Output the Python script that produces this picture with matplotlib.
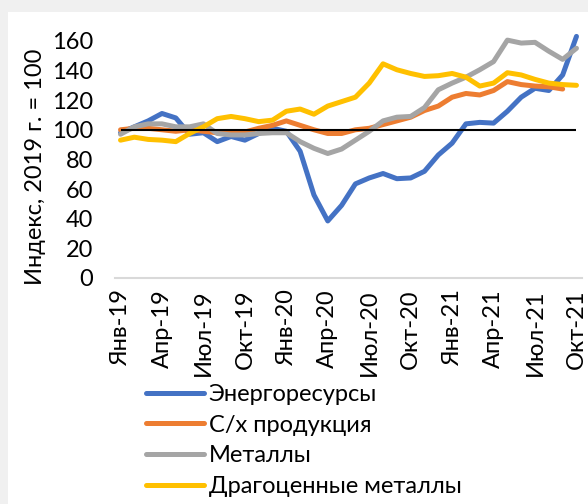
import matplotlib
matplotlib.use("Agg")
import matplotlib.pyplot as plt
import numpy as np

months = ["Янв", "Фев", "Мар", "Апр", "Май", "Июн", "Июл", "Авг", "Сен", "Окт", "Ноя", "Дек"]
dates = [f"{months[i % 12]}-{19 + i // 12}" for i in range(34)]
tick_labels = dates[::3]

energy = [98, 102, 106, 111, 108, 97, 98, 92, 95.5, 93, 97.5, 101, 99, 85.5, 56, 38.5,
          49, 63.5, 67.5, 70.5, 67, 67.5, 72, 83, 91, 104, 105, 104.5, 112.5, 122, 128, 126.5, 137, 163]
agri = [100, 101, 101, 100, 99, 100, 99, 98, 98, 98.5, 101, 103, 106, 103, 100, 97.5,
        97.5, 100, 101, 103.5, 106, 108.5, 113, 116, 122, 124.5, 123.5, 126.5, 132.5, 130.5, 129.5, 129, 127.5, np.nan]
metals = [97, 102, 104, 104, 102, 102, 104, 97.5, 96.5, 96.5, 97.5, 98, 98, 92, 87.5, 84,
          87, 93, 99, 106, 108.5, 109, 115, 127, 131.5, 135.5, 140.5, 146, 160.5, 158.5, 159, 153, 147.5, 155]
precious = [93, 95, 93.5, 93, 92, 97.5, 102, 107.5, 109, 107.5, 105.5, 106.5, 112.5, 114, 110.5, 116,
            119, 122, 131.5, 144.5, 140.5, 138, 136, 136.5, 138, 135.5, 129.5, 131.5, 138.5, 137, 134, 131.5, 130.5, 130]

series = [("Энергоресурсы", energy, "#4472C4"),
          ("С/х продукция", agri, "#ED7D31"),
          ("Металлы", metals, "#A5A5A5"),
          ("Драгоценные металлы", precious, "#FFC000")]

FS = 17
plt.rcParams['font.family'] = ['Lato', 'DejaVu Sans']
fig = plt.figure(figsize=(5.88, 5.04), dpi=100)
fig.patch.set_facecolor("#F0F0F0")
fig.add_artist(plt.Rectangle((8 / 588, 0), 1, 1 - 12 / 504, transform=fig.transFigure,
                             facecolor="white", edgecolor="none", zorder=0))

ax = fig.add_axes([115 / 588, 226 / 504, 467 / 588, 249 / 504])
ax.set_facecolor("none")
x = np.arange(len(dates))
handles = []
for name, vals, col in series:
    h, = ax.plot(x, vals, color=col, lw=3.6, solid_capstyle="round", solid_joinstyle="round", label=name)
    handles.append(h)
ax.hlines(100, x[0], x[-1], color="black", lw=1.5, zorder=5)

ax.set_xlim(-0.4, 33.4)
ax.set_ylim(0, 168)
ax.set_yticks(np.arange(0, 161, 20))
ax.set_xticks(x[::3])
ax.set_xticklabels(tick_labels, rotation=90, fontsize=FS)
ax.tick_params(axis="y", labelsize=FS, length=0, pad=16)
ax.tick_params(axis="x", length=0, pad=8)
for s in ["top", "right", "left"]:
    ax.spines[s].set_visible(False)
ax.spines["bottom"].set_color("#D9D9D9")
ax.spines["bottom"].set_linewidth(1.5)
ax.set_ylabel("Индекс, 2019 г. = 100", fontsize=FS)
ax.yaxis.set_label_coords((46 - 115) / 467, (278 - 167) / 249)

leg = fig.legend(handles=handles, loc="upper left", bbox_to_anchor=(146 / 588, 1 - 384 / 504),
                 frameon=False, fontsize=FS, handlelength=2.45, handletextpad=0.2,
                 labelspacing=0.41, borderaxespad=0, borderpad=0)
fig.savefig("out.png", dpi=100)
